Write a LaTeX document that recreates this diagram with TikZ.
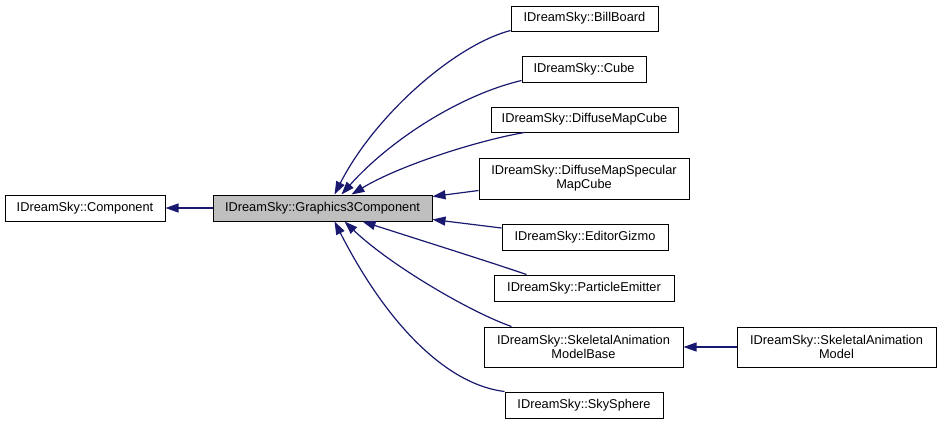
\documentclass[tikz,border=0pt]{standalone}
\usepackage{fontspec}
\setmainfont{Liberation Sans}
\usetikzlibrary{arrows.meta,calc}
\definecolor{edgeblue}{HTML}{191970}
\definecolor{hilite}{HTML}{BFBFBF}
\begin{document}
\begin{tikzpicture}[x=1pt,y=-1pt,
  cls/.style={draw=black,line width=1pt,fill=white,inner sep=0pt,align=center,
    font=\fontsize{12.8}{14}\selectfont},
  edge/.style={draw=edgeblue,line width=1.2pt,-{Triangle[length=13pt,width=9pt]}}]
\useasboundingbox (0,0) rectangle (941,424);
\node[cls,minimum width=160pt,minimum height=26pt] (comp) at (85,208) {IDreamSky::Component};
\node[cls,fill=hilite,minimum width=219pt,minimum height=26pt] (g3) at (322.5,208) {IDreamSky::Graphics3Component};
\node[cls,minimum width=147pt,minimum height=25pt] (bill) at (584.5,18.5) {IDreamSky::BillBoard};
\node[cls,minimum width=124pt,minimum height=26pt] (cube) at (584,69) {IDreamSky::Cube};
\node[cls,minimum width=187pt,minimum height=25pt] (dmc) at (584.5,119.5) {IDreamSky::DiffuseMapCube};
\node[cls,minimum width=210pt,minimum height=41pt] (dmsmc) at (584,178.5) {IDreamSky::DiffuseMapSpecular\\MapCube};
\node[cls,minimum width=166pt,minimum height=26pt] (gizmo) at (585,237) {IDreamSky::EditorGizmo};
\node[cls,minimum width=180pt,minimum height=26pt] (part) at (584,288) {IDreamSky::ParticleEmitter};
\node[cls,minimum width=199pt,minimum height=40pt] (skelb) at (583.5,347) {IDreamSky::SkeletalAnimation\\ModelBase};
\node[cls,minimum width=199pt,minimum height=40pt] (skel) at (836.5,347) {IDreamSky::SkeletalAnimation\\Model};
\node[cls,minimum width=158pt,minimum height=26pt] (sky) at (584,405) {IDreamSky::SkySphere};

\draw[edge] (g3.west) -- (comp.east);
\draw[edge] (skel.west) -- (skelb.east);
\draw[edge] ($(bill.south west)+(0,-1)$) .. controls (455,45) and (375,115) .. ($(g3.north west)+(122,0)$);
\draw[edge] ($(cube.south west)+(0,-2)$) .. controls (460,95) and (390,140) .. ($(g3.north west)+(129,0)$);
\draw[edge] ($(dmc.south west)+(34,0)$) .. controls (480,140) and (400,165) .. ($(g3.north west)+(139,0)$);
\draw[edge] ($(dmsmc.west)+(0,12)$) -- ($(g3.north east)+(0,2)$);
\draw[edge] ($(gizmo.west)+(0,-9)$) -- ($(g3.south east)+(0,-2)$);
\draw[edge] ($(part.north west)+(33,0)$) .. controls (490,262) and (420,240) .. ($(g3.south west)+(150,0)$);
\draw[edge] ($(skelb.north west)+(28,0)$) .. controls (470,312) and (390,265) .. ($(g3.south west)+(132,0)$);
\draw[edge] ($(sky.north west)+(0,0)$) .. controls (450,385) and (390,330) .. ($(g3.south west)+(122,0)$);
\end{tikzpicture}
\end{document}
